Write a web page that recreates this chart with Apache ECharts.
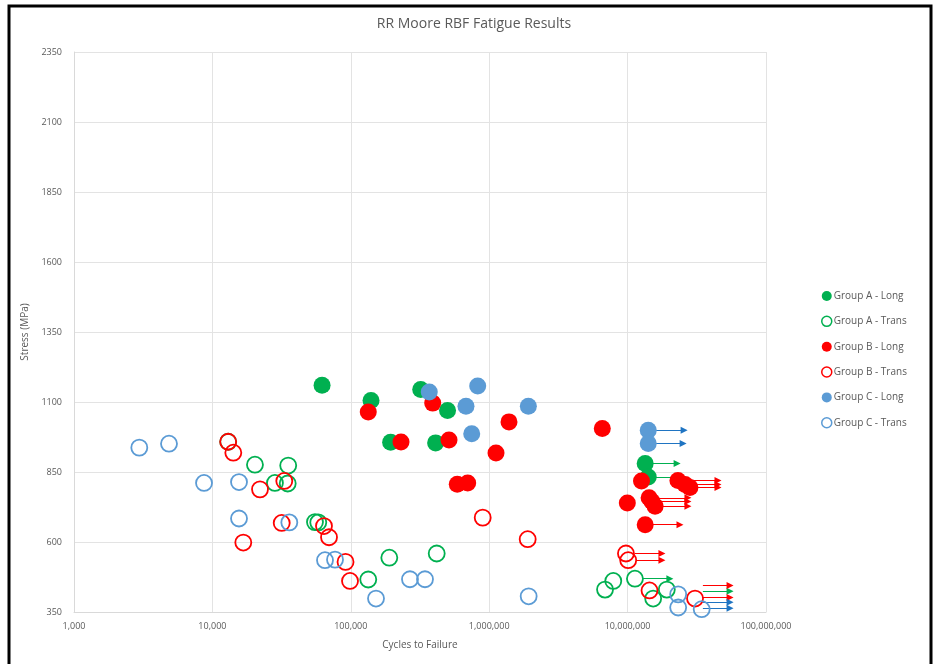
<!DOCTYPE html>
<html>
<head>
<meta charset="utf-8">
<script src="https://cdn.jsdelivr.net/npm/echarts@6/dist/echarts.min.js"></script>
<style>
html,body{margin:0;padding:0;background:#fff;}
#chart{width:937px;height:664px;}
</style>
</head>
<body>
<div id="chart"></div>
<script>
// [cycles, stress]
var aLong = [[62000,1160],[140000,1105],[320000,1145],[500000,1070],[194000,956],[410000,954],[13400000,880],[14100000,832]];
var aTrans = [[13000,958],[20300,876],[35300,873],[28300,811],[35000,809],[55100,671],[58200,670],[133700,466],[189800,544],[417600,559],[6870000,430],[7880000,461],[11300000,469],[15300000,398],[19200000,430]];
var bLong = [[133700,1064],[390700,1096],[230600,957],[512400,964],[1390000,1029],[1120000,918],[588000,806],[699000,811],[6565000,1005],[12600000,818],[9950000,739],[23100000,820],[26000000,805],[28200000,795],[14300000,758],[15000000,745],[15800000,728],[13400000,662]];
var bTrans = [[13000,958],[14160,919],[22080,788],[33070,818],[31680,668],[16720,598],[64000,657],[69600,617],[91600,529],[98700,461],[897700,687],[1897000,610],[9730000,559],[10100000,535],[14400000,427],[30700000,398]];
var cLong = [[369000,1136],[826000,1157],[679600,1085],[1918000,1085],[747700,987],[14100000,999],[14100000,952]];
var cTrans = [[2964,937],[4858,951],[8700,811],[15570,814],[15570,684],[35960,670],[65100,535],[76900,537],[152100,398],[267700,467],[343600,467],[1928000,406],[23200000,413],[23200000,366],[34300000,360]];

// run-outs: [stress, from cycles, to cycles]
var runA = [[880,13400000,22800000],[832,14100000,23900000],[469,12900000,20200000],[424,35000000,55000000]];
var runB = [[820,23100000,45000000],[805,26000000,45000000],[795,28200000,45000000],[758,14300000,27300000],[745,15000000,27300000],[728,15800000,27300000],[662,13400000,23900000],[559,11300000,17700000],[535,11600000,17700000],[445,35000000,55000000],[402,35000000,55000000]];
var runC = [[999,14100000,25600000],[952,14100000,25200000],[385,35000000,55000000],[363,35000000,55000000]];

var yTicks = [350,600,850,1100,1350,1600,1850,2100,2350];

var green = '#00B050', red = '#FF0000', blue = '#5B9BD5', blueArrow = '#1F74C2';

function toLines(run){
	var out = [];
	for (var i = 0; i < run.length; i++) {
		out.push({coords:[[run[i][1],run[i][0]],[run[i][2],run[i][0]]]});
	}
	return out;
}
function arrowSeries(run,color){
	return {
		type:'lines',
		coordinateSystem:'cartesian2d',
		symbol:['none','triangle'],
		symbolSize:7,
		lineStyle:{color:color,width:1,opacity:1},
		z:1,
		silent:true,
		data:toLines(run)
	};
}
function filled(name,data,color){
	return {name:name,type:'scatter',data:data,symbol:'circle',symbolSize:17,z:3,
		itemStyle:{color:color,opacity:1}};
}
function hollow(name,data,color){
	return {name:name,type:'scatter',data:data,symbol:'circle',symbolSize:16,z:2,
		itemStyle:{color:'rgba(0,0,0,0)',borderColor:color,borderWidth:1.8,opacity:1}};
}

var myChart = echarts.init(document.getElementById('chart'));
var option = {
	backgroundColor:'#fff',
	animation:false,
	title:{
		text:'RR Moore RBF Fatigue Results',
		left:469, top:12, textAlign:'center',
		textStyle:{fontFamily:'Open Sans',fontSize:14,fontWeight:'normal',color:'#595959'}
	},
	grid:{left:74,right:171,top:52,bottom:52},
	legend:{
		orient:'vertical',
		left:816, top:286,
		itemWidth:10, itemHeight:10, itemGap:14.6,
		textStyle:{fontFamily:'Open Sans',fontSize:10,color:'#595959',padding:[0,0,0,-3]},
		data:[
			{name:'Group A - Long',icon:'circle',itemStyle:{color:green}},
			{name:'Group A - Trans',icon:'circle',itemStyle:{color:'#fff',borderColor:green,borderWidth:1.5}},
			{name:'Group B - Long',icon:'circle',itemStyle:{color:red}},
			{name:'Group B - Trans',icon:'circle',itemStyle:{color:'#fff',borderColor:red,borderWidth:1.5}},
			{name:'Group C - Long',icon:'circle',itemStyle:{color:blue}},
			{name:'Group C - Trans',icon:'circle',itemStyle:{color:'#fff',borderColor:blue,borderWidth:1.5}}
		]
	},
	xAxis:{
		type:'log', logBase:10, min:1000, max:100000000,
		name:'Cycles to Failure', nameLocation:'middle', nameGap:28,
		nameTextStyle:{fontFamily:'Open Sans',fontSize:10,color:'#595959'},
		axisLine:{show:true,lineStyle:{color:'#D9D9D9'}},
		axisTick:{show:false},
		axisLabel:{fontFamily:'Open Sans',fontSize:9,color:'#595959',margin:10,
			formatter:function(v){return Math.round(v).toLocaleString('en-US');}},
		splitLine:{show:true,lineStyle:{color:'#E3E3E3',width:1}},
		minorTick:{show:false}
	},
	yAxis:{
		type:'value', min:yTicks[0], max:yTicks[yTicks.length-1], interval:250,
		name:'Stress (MPa)', nameLocation:'middle', nameGap:40, nameRotate:90,
		nameTextStyle:{fontFamily:'Open Sans',fontSize:10,color:'#595959'},
		axisLine:{show:true,lineStyle:{color:'#D9D9D9'}},
		axisTick:{show:false},
		axisLabel:{fontFamily:'Open Sans',fontSize:9,color:'#595959',margin:12,
			formatter:function(v){return String(v);}},
		splitLine:{show:true,lineStyle:{color:'#E3E3E3',width:1}}
	},
	graphic:[{
		type:'rect', silent:true, z:100,
		shape:{x:9,y:6,width:922,height:670},
		style:{fill:'none',stroke:'#000',lineWidth:3}
	}],
	series:[
		filled('Group A - Long',aLong,green),
		hollow('Group A - Trans',aTrans,green),
		filled('Group B - Long',bLong,red),
		hollow('Group B - Trans',bTrans,red),
		filled('Group C - Long',cLong,blue),
		hollow('Group C - Trans',cTrans,blue),
		arrowSeries(runA,green),
		arrowSeries(runB,red),
		arrowSeries(runC,blueArrow)
	]
};
myChart.setOption(option);
</script>
</body>
</html>
